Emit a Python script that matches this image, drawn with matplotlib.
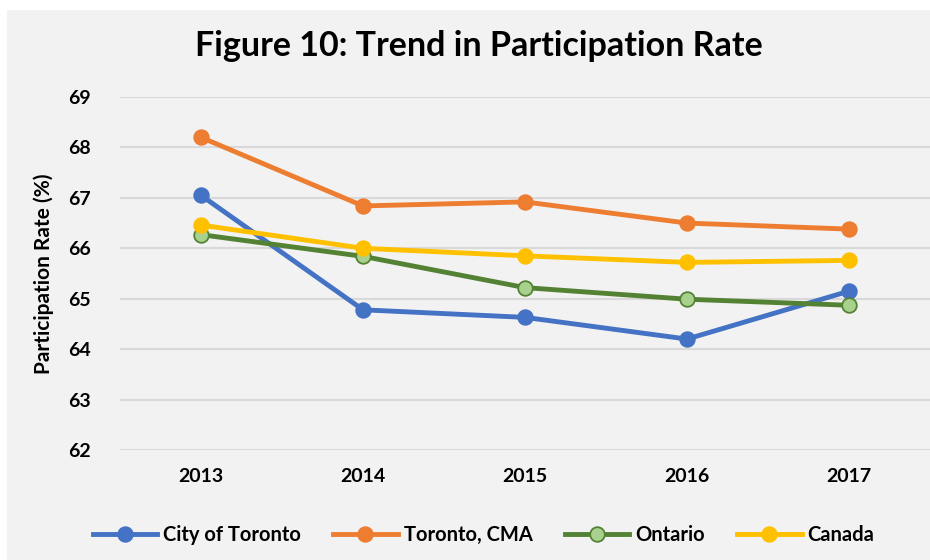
import matplotlib.pyplot as plt
from matplotlib.patches import Rectangle

# data
years = ['2013', '2014', '2015', '2016', '2017']
city_of_toronto = [67.05, 64.78, 64.63, 64.20, 65.15]
toronto_cma = [68.20, 66.84, 66.92, 66.50, 66.38]
ontario = [66.27, 65.84, 65.22, 64.99, 64.87]
canada = [66.46, 66.00, 65.85, 65.72, 65.76]

plt.rcParams['font.family'] = ['Lato', 'DejaVu Sans']

fig = plt.figure(figsize=(9.3, 5.6), dpi=100)
fig.patch.set_facecolor('white')

# light grey chart area with a thin white margin top/left
bg = Rectangle((7 / 930, 0), 1, 550 / 560, transform=fig.transFigure,
               facecolor='#f2f2f2', edgecolor='none', zorder=-10)
fig.patches.append(bg)

ax = fig.add_axes([120 / 930, 110 / 560, 810 / 930, 353 / 560])
ax.set_facecolor('#f2f2f2')

x = list(range(len(years)))
series = [
    ('City of Toronto', city_of_toronto, '#4472C4', '#4472C4'),
    ('Toronto, CMA', toronto_cma, '#ED7D31', '#ED7D31'),
    ('Ontario', ontario, '#548235', '#A9D18E'),
    ('Canada', canada, '#FFC000', '#FFC000'),
]
for name, vals, col, face in series:
    ax.plot(x, vals, '-o', color=col, lw=3.5, markersize=10.5,
            markerfacecolor=face, markeredgecolor=col, markeredgewidth=1.3,
            label=name, zorder=3)

ax.set_xlim(-0.5, 4.5)
ax.set_ylim(62, 69)
ax.set_yticks(range(62, 70))
ax.set_xticks(x)
ax.set_xticklabels(years)
ax.grid(axis='y', color='#d9d9d9', lw=1.5)
ax.set_axisbelow(True)
for s in ax.spines.values():
    s.set_visible(False)
ax.tick_params(length=0, labelsize=14, pad=13)
for lab in ax.get_xticklabels() + ax.get_yticklabels():
    lab.set_fontweight('bold')
ax.tick_params(axis='y', pad=21)

ax.set_ylabel('Participation Rate (%)', fontsize=15, fontweight='bold', labelpad=10)

fig.text(0.515, 0.918, 'Figure 10: Trend in Participation Rate', ha='center', va='center',
         fontsize=24.5, fontweight='bold')

fig.legend(loc='center', bbox_to_anchor=(0.52, 25 / 560), ncol=4, frameon=False,
           prop={'size': 14.5, 'weight': 'bold'}, handlelength=3.2, columnspacing=1.6,
           handletextpad=0.3)

fig.savefig('out.png', dpi=100, facecolor=fig.get_facecolor())
